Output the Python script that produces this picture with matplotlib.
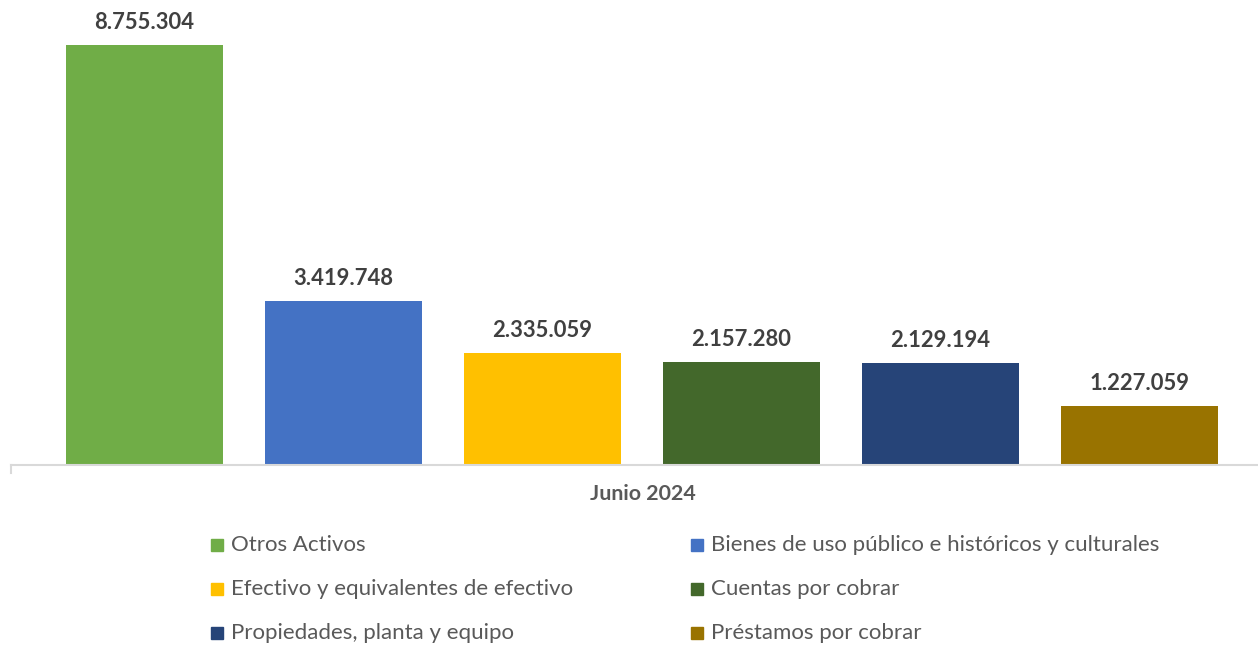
import numpy as np
import matplotlib.pyplot as plt
from matplotlib.patches import Rectangle

# data
series = ['Otros Activos',
          'Bienes de uso público e históricos y culturales',
          'Efectivo y equivalentes de efectivo',
          'Cuentas por cobrar',
          'Propiedades, planta y equipo',
          'Préstamos por cobrar']
values = [8755304, 3419748, 2335059, 2157280, 2129194, 1227059]
colors = ['#70AD47', '#4472C4', '#FFC000', '#43682B', '#264478', '#997300']
category = 'Junio 2024'

plt.rcParams['font.family'] = ['Lato', 'DejaVu Sans']

W, H = 1258, 645
fig = plt.figure(figsize=(W / 100, H / 100), dpi=100)
ax = fig.add_axes([11 / W, (H - 465) / H, (W - 11) / W, 465 / H])

x = np.arange(len(values))
ax.bar(x, values, width=157 / 199, color=colors, zorder=2)
for xi, v in zip(x, values):
    ax.text(xi, v + 250000, f'{v:,}'.replace(',', '.'), ha='center', va='bottom',
            fontsize=15.8, fontweight='bold', color='#404040')

ax.set_xlim((11 - 144.5) / 199, (W - 144.5) / 199)
ax.set_ylim(0, 8755304 * 465 / 420)
for s in ['top', 'right', 'left']:
    ax.spines[s].set_visible(False)
ax.spines['bottom'].set_color('#D9D9D9')
ax.spines['bottom'].set_linewidth(1.5)
ax.set_yticks([])
ax.set_xticks([])
fig.add_artist(plt.Line2D([11 / W, 11 / W], [(H - 465) / H, (H - 473) / H],
                          color='#D9D9D9', linewidth=1.5))

fig.text(643 / W, (H - 494) / H, category, ha='center', va='center',
         fontsize=15.4, fontweight='bold', color='#595959')

# legend, two columns
col_x = [217, 697]
row_y = [545, 589, 633]
for i, (name, c) in enumerate(zip(series, colors)):
    cx = col_x[i % 2]
    cy = row_y[i // 2]
    fig.add_artist(Rectangle(((cx - 6) / W, (H - cy - 6) / H), 12 / W, 12 / H,
                             color=c, transform=fig.transFigure))
    fig.text((cx + 14) / W, (H - cy) / H, name, ha='left', va='center',
             fontsize=16, color='#595959')

fig.savefig('out.png', dpi=100)
